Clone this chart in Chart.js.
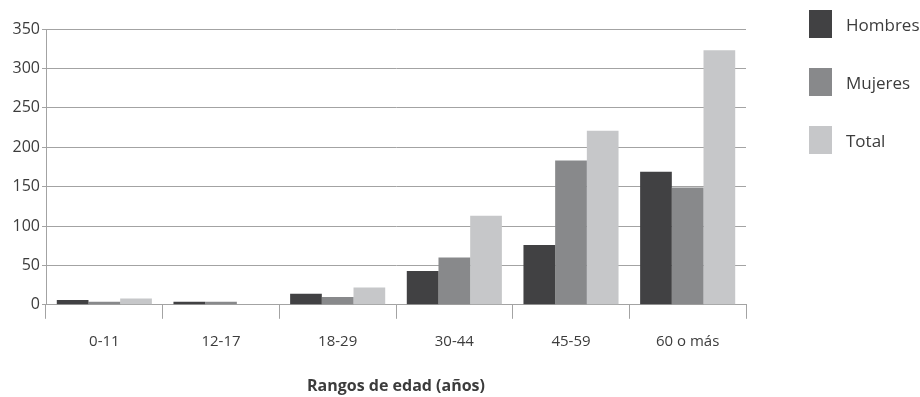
<!DOCTYPE html>
<html>
<head>
<meta charset="utf-8">
<script src="https://cdn.jsdelivr.net/npm/chart.js@4"></script>
<style>
    body { margin: 0; background: #fff; }
    #wrap { position: relative; width: 920px; height: 397px; }
    #legend { position: absolute; left: 809px; top: 10px; font-family: "Open Sans", sans-serif; font-size: 17px; color: #3c3c3c; }
    .item { display: flex; align-items: center; height: 28px; margin-bottom: 30px; }
    .box { width: 23px; height: 28px; margin-right: 14px; }
</style>
</head>
<body>
<div id="wrap">
    <canvas id="edadChart" width="920" height="397"></canvas>
    <div id="legend"></div>
</div>
<script>
const categories = ['0-11', '12-17', '18-29', '30-44', '45-59', '60 o más'];
const hombres = [6, 4, 14, 43, 76, 169];
const mujeres = [4, 4, 10, 60, 183, 149];
const total = [8, 0, 22, 113, 221, 323];
const seriesNames = ['Hombres', 'Mujeres', 'Total'];
const seriesColors = ['#414143', '#88898b', '#c6c7c9'];

document.addEventListener('DOMContentLoaded', function () {
    const ctx = document.getElementById('edadChart');
    const gridColor = '#a3a3a3';
    const textColor = '#3c3c3c';

    const chart = new Chart(ctx.getContext('2d'), {
        type: 'bar',
        data: {
            labels: categories,
            datasets: [hombres, mujeres, total].map((values, i) => ({
                label: seriesNames[i],
                data: values,
                backgroundColor: seriesColors[i],
                borderWidth: 0,
                barPercentage: 1,
                categoryPercentage: 0.815
            }))
        },
        options: {
            responsive: false,
            animation: false,
            layout: { padding: { top: 29, right: 174, bottom: 1, left: 0 } },
            plugins: {
                legend: { display: false },
                tooltip: { enabled: false }
            },
            scales: {
                x: {
                    grid: { drawOnChartArea: false, color: gridColor, tickLength: 14, lineWidth: 1 },
                    border: { color: gridColor },
                    ticks: { color: textColor, font: { family: 'Open Sans', size: 15 }, padding: 14 },
                    title: {
                        display: true,
                        text: 'Rangos de edad (años)',
                        color: textColor,
                        font: { family: 'Open Sans', size: 16, weight: 'bold' },
                        padding: { top: 12, bottom: 0 }
                    }
                },
                y: {
                    min: 0,
                    max: 350,
                    ticks: { stepSize: 50, color: textColor, font: { family: 'Open Sans', size: 16 }, padding: 2 },
                    grid: { color: gridColor, tickLength: 4, lineWidth: 1 },
                    border: { color: gridColor },
                    afterFit: function (scale) { scale.width = 46; }
                }
            }
        }
    });

    const legend = document.getElementById('legend');
    chart.data.datasets.forEach(ds => {
        const item = document.createElement('div');
        item.className = 'item';
        const box = document.createElement('span');
        box.className = 'box';
        box.style.background = ds.backgroundColor;
        const label = document.createElement('span');
        label.textContent = ds.label;
        item.appendChild(box);
        item.appendChild(label);
        legend.appendChild(item);
    });
});
</script>
</body>
</html>
